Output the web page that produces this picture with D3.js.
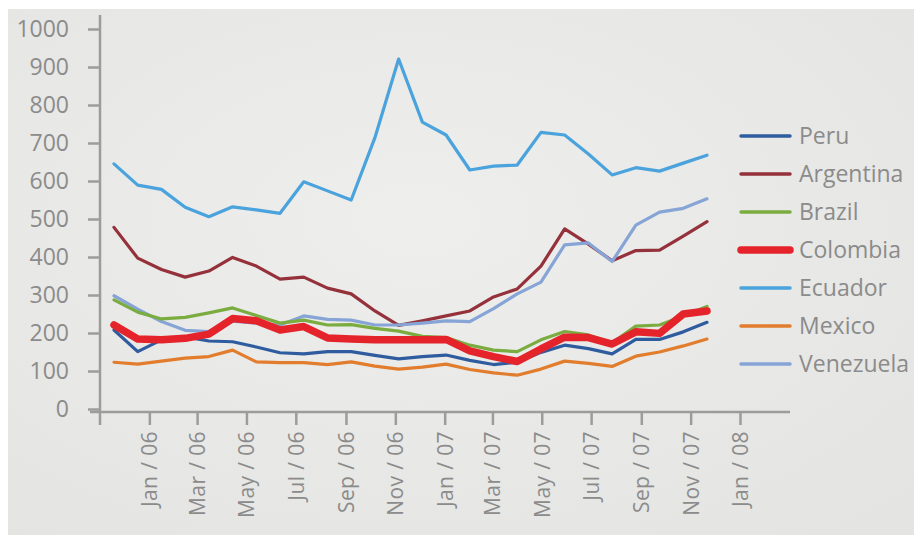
<!DOCTYPE html>
<html>
<head>
<meta charset="utf-8">
<script src="https://cdn.jsdelivr.net/npm/d3@7"></script>
<style>
  html, body { margin: 0; padding: 0; background: #ffffff; }
  svg { display: block; font-family: "Open Sans", "Noto Sans", sans-serif; }
</style>
</head>
<body>
<svg id="chart" width="914" height="535"></svg>
<script>
// Monthly observations, Nov 2005 – Dec 2007
const months = ["2005-11","2005-12","2006-01","2006-02","2006-03","2006-04","2006-05","2006-06",
  "2006-07","2006-08","2006-09","2006-10","2006-11","2006-12","2007-01","2007-02","2007-03",
  "2007-04","2007-05","2007-06","2007-07","2007-08","2007-09","2007-10","2007-11","2007-12"];

const peru      = [208,151,182,190,179,177,163,148,145,151,151,141,132,138,142,128,117,123,149,168,159,145,183,183,203,228];
const argentina = [478,397,367,347,363,399,376,342,347,318,303,258,220,232,245,258,295,316,376,474,434,390,417,418,455,493];
const brazil    = [287,255,237,241,253,266,246,226,234,221,222,212,205,191,188,168,155,151,182,204,195,174,218,221,245,270];
const colombia  = [221,184,182,186,197,238,232,208,217,187,184,182,182,182,183,153,138,125,158,189,188,171,203,199,250,258];
const ecuador   = [645,589,578,531,506,532,524,515,598,574,550,714,921,755,721,629,639,642,728,721,671,616,635,626,647,668];
const mexico    = [123,118,126,134,138,155,124,122,122,117,124,113,105,110,118,104,95,89,105,126,120,112,139,150,166,184];
const venezuela = [298,263,230,207,204,231,226,221,245,236,234,221,221,226,232,230,264,303,334,432,437,388,484,518,528,553];

const seriesNames  = ["Peru","Argentina","Brazil","Colombia","Ecuador","Mexico","Venezuela"];
const seriesValues = [peru, argentina, brazil, colombia, ecuador, mexico, venezuela];
const seriesColors = ["#2f5c9f","#94313b","#7aac3f","#e4232a","#4aa3dc","#e17d2d","#87a4d6"];
const seriesWidths = [3.2, 3.2, 3.2, 7.5, 3.2, 3.2, 3.2];
// drawing order (last on top)
const drawOrder = ["Mexico","Ecuador","Argentina","Venezuela","Brazil","Peru","Colombia"];

const yTicks = [0,100,200,300,400,500,600,700,800,900,1000];
const monthAbbr = ["Jan","Feb","Mar","Apr","May","Jun","Jul","Aug","Sep","Oct","Nov","Dec"];

const textColor = "#8b8b8b";
const axisColor = "#9c9c9c";

const svg = d3.select("#chart");

// background panel
const defs = svg.append("defs");
const grad = defs.append("radialGradient").attr("id","bg")
  .attr("cx","45%").attr("cy","40%").attr("r","75%");
grad.append("stop").attr("offset","0%").attr("stop-color","#eeeeec");
grad.append("stop").attr("offset","100%").attr("stop-color","#e4e4e2");
svg.append("rect").attr("x",8).attr("y",9).attr("width",906).attr("height",526)
  .attr("fill","url(#bg)");

// scales
const y = d3.scaleLinear().domain([0,1000]).range([409,29]);
const xData = d3.scalePoint().domain(months).range([114,707]);
const xTime = d3.scaleTime()
  .domain([new Date(2005,10,1), new Date(2008,0,1)])
  .range([100,740]);

// y axis
const yAxis = svg.append("g").attr("transform","translate(100,0)")
  .call(d3.axisLeft(y).tickValues(yTicks).tickSize(12).tickPadding(19).tickFormat(d3.format("d")));
yAxis.select(".domain").remove();
yAxis.selectAll(".tick line").attr("stroke",axisColor).attr("stroke-width",2.5);
yAxis.selectAll(".tick text").attr("fill",textColor).attr("font-size",23)
  .attr("font-family","'Open Sans', sans-serif");

// axis lines
svg.append("line").attr("x1",100).attr("x2",100).attr("y1",15).attr("y2",425)
  .attr("stroke",axisColor).attr("stroke-width",2.5);
svg.append("line").attr("x1",90).attr("x2",790).attr("y1",412).attr("y2",412)
  .attr("stroke",axisColor).attr("stroke-width",2.5);

// x axis (bi-monthly ticks)
const xTickDates = d3.timeMonth.every(2).range(new Date(2006,0,1), new Date(2008,0,2));
const xAxis = svg.append("g").attr("transform","translate(0,412)")
  .call(d3.axisBottom(xTime).tickValues(xTickDates).tickSize(13).tickPadding(6)
    .tickFormat(d => monthAbbr[d.getMonth()] + " / " + d3.timeFormat("%y")(d)));
xAxis.select(".domain").remove();
xAxis.selectAll(".tick line").attr("stroke",axisColor).attr("stroke-width",2.5);
xAxis.selectAll(".tick text")
  .attr("fill",textColor).attr("font-size",21)
  .attr("letter-spacing","0.4px")
  .attr("font-family","'Open Sans', sans-serif")
  .attr("text-anchor","end")
  .attr("dy","0.35em")
  .attr("transform","translate(0,19) rotate(-90)")
  .attr("x",0).attr("y",0);

// lines
const line = d3.line()
  .x((d,i) => xData(months[i]))
  .y(d => y(d))
  .curve(d3.curveLinear);

const plot = svg.append("g");
drawOrder.forEach(name => {
  const k = seriesNames.indexOf(name);
  plot.append("path")
    .datum(seriesValues[k])
    .attr("d", line)
    .attr("fill","none")
    .attr("stroke", seriesColors[k])
    .attr("stroke-width", seriesWidths[k])
    .attr("stroke-linejoin","round")
    .attr("stroke-linecap","round");
});

// legend
const legendY = d3.scalePoint().domain(seriesNames).range([136,364]);
const legend = svg.append("g");
seriesNames.forEach((name,k) => {
  const g = legend.append("g").attr("transform",`translate(0,${legendY(name)})`);
  g.append("line").attr("x1",741).attr("x2",790).attr("y1",0).attr("y2",0)
    .attr("stroke",seriesColors[k]).attr("stroke-width",seriesWidths[k] > 5 ? 7.5 : 3.5)
    .attr("stroke-linecap","round");
  g.append("text").attr("x",799).attr("y",0).attr("dy","0.35em")
    .attr("fill",textColor).attr("font-size",23)
    .attr("font-family","'Open Sans', sans-serif")
    .text(name);
});
</script>
</body>
</html>
